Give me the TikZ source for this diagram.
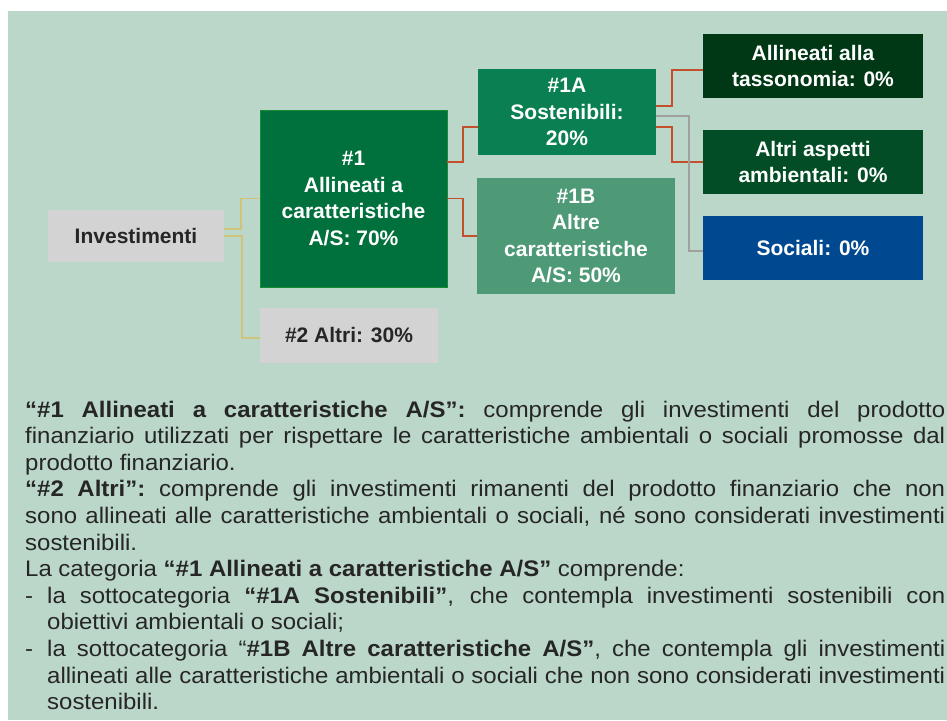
\documentclass[tikz,border=0pt]{standalone}
\usepackage{fontspec}
\setmainfont{Liberation Sans}
\newfontfamily\bodyfont[FakeStretch=1.065]{Liberation Sans}
\definecolor{bgg}{RGB}{187,215,201}
\definecolor{gbox}{RGB}{211,211,211}
\definecolor{txtd}{RGB}{38,38,38}
\definecolor{c1}{RGB}{0,112,60}
\definecolor{c1a}{RGB}{10,128,82}
\definecolor{c1b}{RGB}{78,154,118}
\definecolor{ctax}{RGB}{0,56,22}
\definecolor{camb}{RGB}{3,77,38}
\definecolor{csoc}{RGB}{0,73,144}
\definecolor{lred}{RGB}{196,80,43}
\definecolor{lyel}{RGB}{207,196,122}
\definecolor{lgray}{RGB}{160,160,160}
\newcommand\jline[2][920pt]{\makebox[#1][s]{#2}\par}
\newcommand\lline[1]{#1\par}
\begin{document}
\begin{tikzpicture}[x=1pt,y=-1pt,
  box/.style={rectangle, inner sep=2pt, align=center, text=white,
    font=\fontsize{21}{26.5}\selectfont\bfseries},
  graybox/.style={box, fill=gbox, text=txtd},
  redline/.style={draw=lred, line width=1.8pt},
  yelline/.style={draw=lyel, line width=1.8pt},
  grayline/.style={draw=lgray, line width=1.6pt}]
\useasboundingbox (0,0) rectangle (947,720);
\fill[white] (0,0) rectangle (947,720);
\fill[bgg] (8,11) rectangle (947,720);

\node[graybox, minimum width=176pt, minimum height=52pt] (inv) at (136,236) {Investimenti};
\node[box, fill=c1, draw={rgb,255:red,20;green,140;blue,50}, line width=0.6pt, minimum width=187pt, minimum height=177pt] (n1) at (353.5,198.5) {\#1\\Allineati a\\caratteristiche\\A/S: 70\%};
\node[graybox, minimum width=178pt, minimum height=55pt] (n2) at (349,335.5) {\#2 Altri: 30\%};
\node[box, fill=c1a, minimum width=178pt, minimum height=86pt] (n1a) at (567,112) {\#1A\\Sostenibili:\\20\%};
\node[box, fill=c1b, minimum width=198pt, minimum height=116pt] (n1b) at (576,236) {\#1B\\Altre\\caratteristiche\\A/S: 50\%};
\node[box, fill=ctax, minimum width=220pt, minimum height=64pt] (tax) at (813,66) {Allineati alla\\tassonomia: 0\%};
\node[box, fill=camb, minimum width=220pt, minimum height=64pt] (amb) at (813,162) {Altri aspetti\\ambientali: 0\%};
\node[box, fill=csoc, minimum width=220pt, minimum height=64pt] (soc) at (813,248) {Sociali: 0\%};

\draw[yelline] ([yshift=7pt]inv.east) -- ++(17,0) |- (n1.west);
\draw[yelline] (inv.east) -- ++(18,0) |- ([yshift=-2.5pt]n2.west);
\draw[redline] ([yshift=36.5pt]n1.east) -- ++(16,0) |- ([yshift=-15pt]n1a.west);
\draw[redline] (n1.east) -- ++(16,0) |- (n1b.west);
\draw[redline] ([yshift=6pt]n1a.east) -- ++(16,0) |- ([yshift=-4pt]tax.west);
\draw[redline] ([yshift=-15pt]n1a.east) -- ++(16,0) |- (amb.west);
\draw[grayline] ([yshift=-4pt]n1a.east) -- ++(33,0) |- ([yshift=-3pt]soc.west);

\node[anchor=base west, inner sep=0pt, text=txtd] (txt) at (25,417) {\begin{minipage}[t]{920pt}
\bodyfont\fontsize{22.5}{26.6}\selectfont\parindent=0pt\parskip=0pt
\jline{\textbf{“\#1 Allineati a caratteristiche A/S”:} comprende gli investimenti del prodotto}
\jline{finanziario utilizzati per rispettare le caratteristiche ambientali o sociali promosse dal}
\lline{prodotto finanziario.}
\jline{\textbf{“\#2 Altri”:}\ comprende gli investimenti rimanenti del prodotto finanziario che non}
\jline{sono allineati alle caratteristiche ambientali o sociali, né sono considerati investimenti}
\lline{sostenibili.}
\lline{La categoria \textbf{“\#1 Allineati a caratteristiche A/S”} comprende:}
\jline{\makebox[22pt][l]{-}la sottocategoria \textbf{“\#1A Sostenibili”}, che contempla investimenti sostenibili con}
\lline{\hspace*{22pt}obiettivi ambientali o sociali;}
\jline{\makebox[22pt][l]{-}la sottocategoria “\textbf{\#1B Altre caratteristiche A/S”}, che contempla gli investimenti}
\lline{\hspace*{22pt}\makebox[898pt][s]{allineati alle caratteristiche ambientali o sociali che non sono considerati investimenti}}
\lline{\hspace*{22pt}sostenibili.}
\end{minipage}};
\end{tikzpicture}
\end{document}
